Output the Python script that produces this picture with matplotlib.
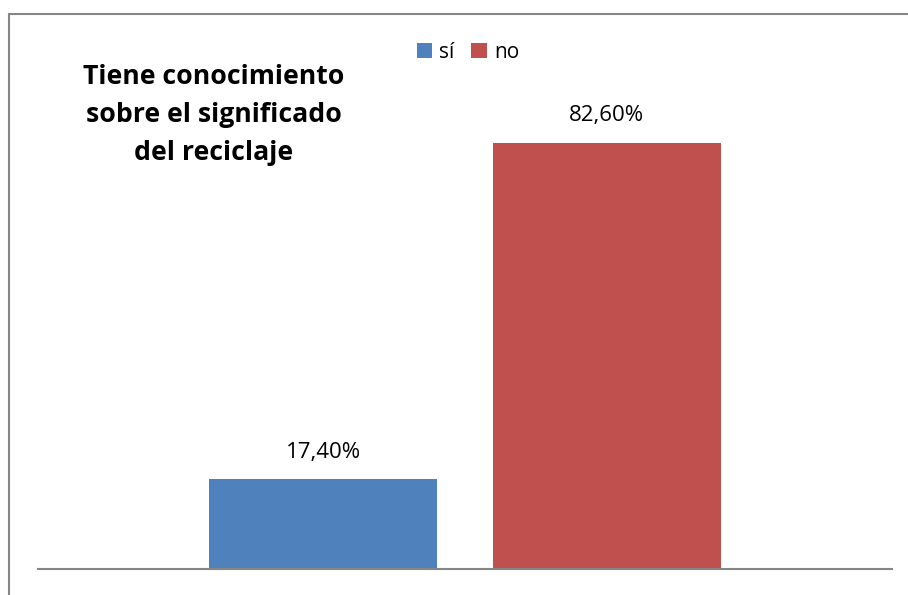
import matplotlib.pyplot as plt
from matplotlib.patches import Rectangle

series = ['sí', 'no']
values = [17.4, 82.6]
labels = ['17,40%', '82,60%']
colors = ['#4F81BD', '#C0504D']
offsets = [-0.166, 0.166]

W, H = 908, 595
fig = plt.figure(figsize=(W / 100, H / 100), dpi=100)
plt.rcParams['font.family'] = ['Open Sans', 'DejaVu Sans']

# outer chart border (cut off on right and bottom as in the screenshot)
fig.patches.append(Rectangle((8.5 / W, -0.1), 1.2, 1 - 13.5 / H + 0.1,
                             transform=fig.transFigure, fill=False,
                             edgecolor='#868686', linewidth=1.5))

ax = fig.add_axes([38 / W, 1 - 569 / H, (892 - 38) / W, 516 / H])
for name, v, lab, c, off in zip(series, values, labels, colors, offsets):
    ax.bar(off, v, width=0.267, color=c, label=name)
    ax.text(off, v + 3.2, lab, ha='center', va='bottom', fontsize=16, color='#000000')

ax.set_xlim(-0.5, 0.5)
ax.set_ylim(0, 100)
for s in ['top', 'right', 'left']:
    ax.spines[s].set_visible(False)
ax.spines['bottom'].set_color('#868686')
ax.spines['bottom'].set_linewidth(1.5)
ax.set_xticks([])
ax.set_yticks([])

fig.text(214 / W, 1 - 115 / H, 'Tiene conocimiento\nsobre el significado\ndel reciclaje',
         ha='center', va='center', fontsize=19.2, fontweight='bold', linespacing=1.62)

fig.legend(loc='center', bbox_to_anchor=(468 / W, 1 - 52 / H), ncol=2, frameon=False,
           fontsize=15, handlelength=0.75, handleheight=0.75, handletextpad=0.35,
           columnspacing=0.8)

fig.savefig('out.png', dpi=100)
